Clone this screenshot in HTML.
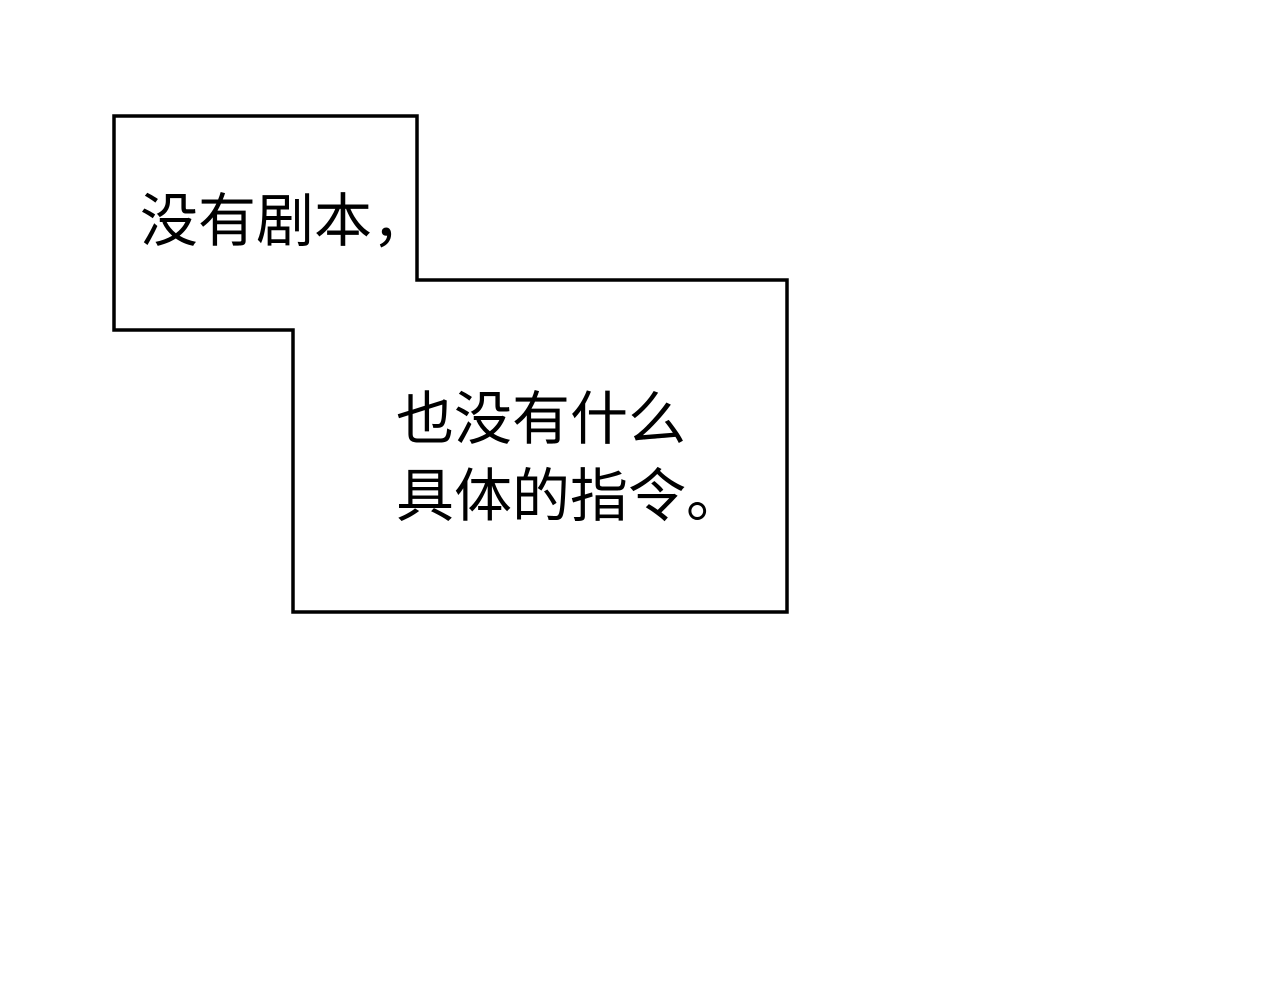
<!DOCTYPE html>
<html>
<head>
<meta charset="utf-8">
<style>
html,body{margin:0;padding:0;background:#fff;}
svg{display:block;}
text{font-family:"Liberation Sans","Noto Sans CJK SC",sans-serif;font-size:58px;fill:#000;font-weight:400;}
</style>
</head>
<body>
<svg width="1280" height="1000" viewBox="0 0 1280 1000" xmlns="http://www.w3.org/2000/svg">
<rect width="1280" height="1000" fill="#fff"/>
<polygon points="114,116 417,116 417,280 787,280 787,612 293,612 293,330 114,330" fill="#fff" stroke="#000" stroke-width="3.5" stroke-linejoin="miter"/>
<text x="140" y="241">没有剧本，</text>
<text x="396" y="439">也没有什么</text>
<text x="396" y="516">具体的指令。</text>
</svg>
</body>
</html>
